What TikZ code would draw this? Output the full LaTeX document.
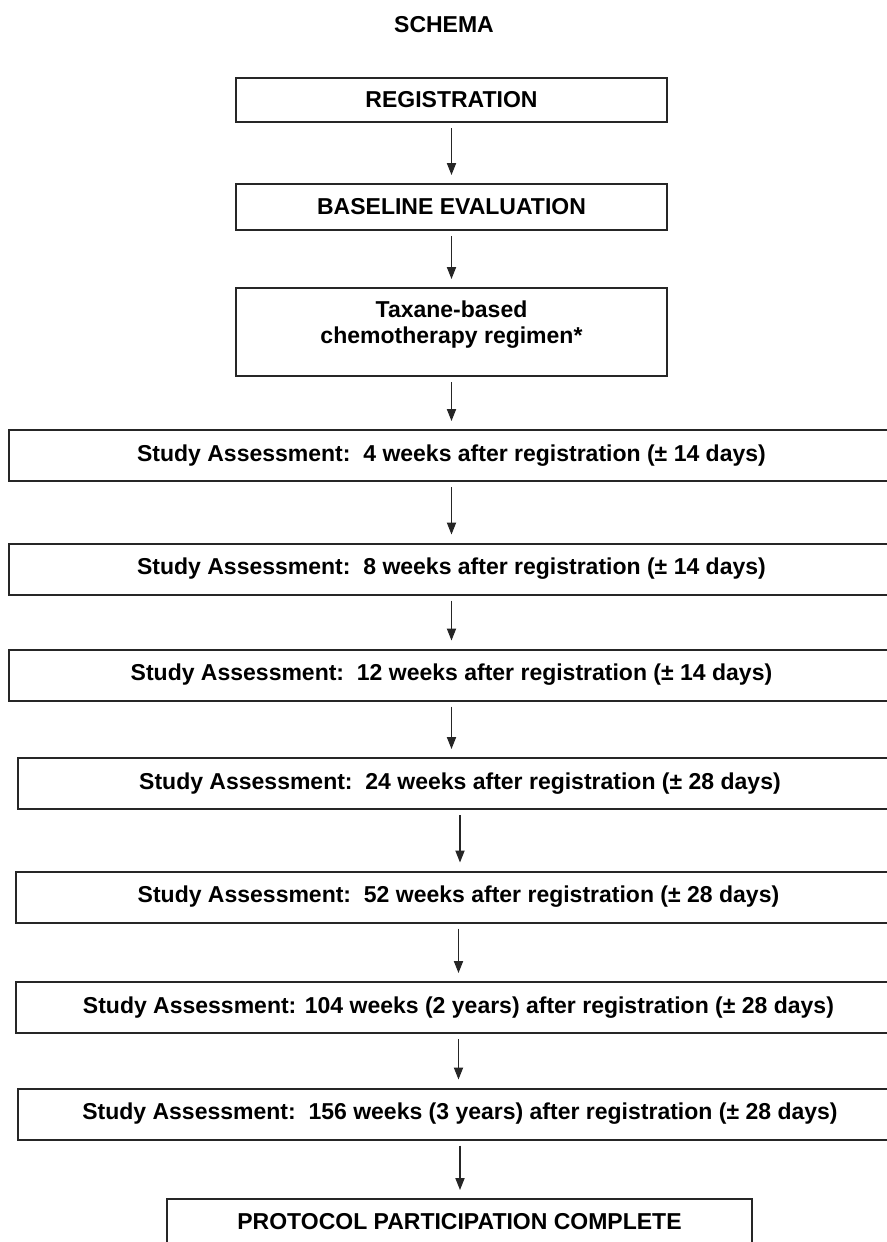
\documentclass[tikz,border=0pt]{standalone}
\usepackage{fontspec}
\setmainfont{Liberation Sans}
\usetikzlibrary{arrows.meta}

\begin{document}
\begin{tikzpicture}[x=0.5pt,y=-0.5pt,>={Triangle[length=6pt,width=4.6pt]},
  font=\fontsize{11.5pt}{13pt}\selectfont\bfseries,
  box/.style={draw=black!85,line width=1pt,inner sep=0pt,align=center},
  narrowbox/.style={box,minimum width=215.5pt},
  widebox/.style={box,minimum width=442.5pt,minimum height=25.5pt},
  flow/.style={->,black!85,line width=0.6pt,shorten <=2.5pt,shorten >=4pt}]
\useasboundingbox (0,0) rectangle (887,1242);
\node (schema) at (444,25) {SCHEMA};
\node[narrowbox,minimum height=22pt] (reg) at (451.5,100) {REGISTRATION};
\node[narrowbox,minimum height=23pt] (base) at (451.5,207) {BASELINE EVALUATION};
\node[narrowbox,minimum height=44pt,
  label={[yshift=3.5pt,align=center,font=\fontsize{11.5pt}{13pt}\selectfont\bfseries]center:Taxane-based\\chemotherapy regimen*}]
  (chemo) at (451.5,332) {};
\node[widebox] (wk4) at (451.5,455.5) {Study Assessment:\ \ 4 weeks after registration (± 14 days)};
\node[widebox] (wk8) at (451.5,569) {Study Assessment:\ \ 8 weeks after registration (± 14 days)};
\node[widebox] (wk12) at (451.5,675) {Study Assessment:\ \ 12 weeks after registration (± 14 days)};
\node[widebox] (wk24) at (460,783.5) {Study Assessment:\ \ 24 weeks after registration (± 28 days)};
\node[widebox] (wk52) at (458.5,897) {Study Assessment:\ \ 52 weeks after registration (± 28 days)};
\node[widebox] (wk104) at (458.5,1007.5) {Study Assessment: 104 weeks (2 years) after registration (± 28 days)};
\node[widebox] (wk156) at (460,1114) {Study Assessment:\ \ 156 weeks (3 years) after registration (± 28 days)};
\node[box,minimum width=292.5pt,minimum height=23pt] (done) at (459.5,1222) {PROTOCOL PARTICIPATION COMPLETE};
\foreach \a/\b in {reg/base,base/chemo,chemo/wk4,wk4/wk8,wk8/wk12,wk12/wk24,wk24/wk52,wk52/wk104,wk104/wk156,wk156/done}
  \draw[flow] (\a.south) -- (\a.south |- \b.north);
\end{tikzpicture}
\end{document}
